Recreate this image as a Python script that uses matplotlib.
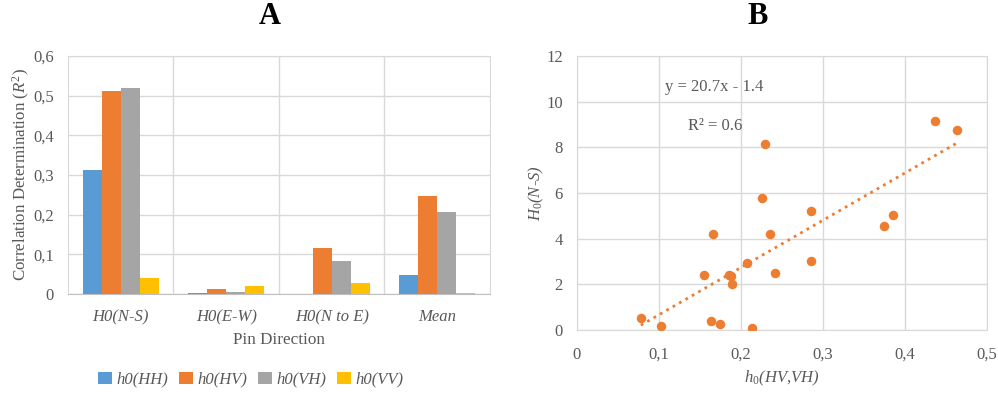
import numpy as np
import matplotlib
matplotlib.use('Agg')
from matplotlib import pyplot as plt
from matplotlib.ticker import FuncFormatter

plt.rcParams['font.family'] = ['Liberation Serif', 'DejaVu Serif']
plt.rcParams['mathtext.fontset'] = 'custom'
plt.rcParams['mathtext.rm'] = 'Liberation Serif'
plt.rcParams['mathtext.it'] = 'Liberation Serif:italic'

# chart A data
categories = ['H0(N-S)', 'H0(E-W)', 'H0(N to E)', 'Mean']
series_names = ['h0(HH)', 'h0(HV)', 'h0(VH)', 'h0(VV)']
hh = [0.312, 0.002, 0.001, 0.049]
hv = [0.512, 0.013, 0.116, 0.246]
vh = [0.519, 0.004, 0.083, 0.206]
vv = [0.041, 0.021, 0.028, 0.002]
colors = ['#5B9BD5', '#ED7D31', '#A5A5A5', '#FFC000']

# chart B data
h0_hvvh = [0.078, 0.102, 0.155, 0.164, 0.166, 0.174, 0.185, 0.188, 0.189, 0.208, 0.213,
           0.226, 0.229, 0.235, 0.241, 0.285, 0.286, 0.375, 0.385, 0.437, 0.464]
H0_ns = [0.52, 0.19, 2.43, 0.38, 4.19, 0.26, 2.43, 2.37, 2.01, 2.96, 0.09,
         5.78, 8.16, 4.19, 2.52, 5.21, 3.01, 4.54, 5.05, 9.17, 8.75]
slope, intercept = 20.7, -1.4

grid_c = '#d9d9d9'
txt_c = '#595959'
comma = FuncFormatter(lambda v, p: ('%g' % round(v, 2)).replace('.', ','))

fig = plt.figure(figsize=(9.98, 3.93), dpi=100)

# ---- A ----
ax = fig.add_axes([0.0681, 0.2519, 0.4228, 0.6056])
x = np.arange(len(categories))
w = 0.18
for i, (vals, name) in enumerate(zip([hh, hv, vh, vv], series_names)):
    ax.bar(x + (i - 1.5) * w, vals, w, color=colors[i], label=name, zorder=3)
ax.set_xlim(-0.5, 3.5)
ax.set_ylim(0, 0.6)
ax.set_yticks(np.arange(0, 0.61, 0.1))
ax.yaxis.set_major_formatter(comma)
ax.set_xticks(x)
ax.set_xticklabels(categories, fontstyle='italic')
ax.set_xticks([0.5, 1.5, 2.5], minor=True)
ax.grid(axis='y', color=grid_c, lw=1, zorder=0)
ax.grid(axis='x', which='minor', color=grid_c, lw=1, zorder=0)
ax.tick_params(which='both', length=0, labelsize=12, colors=txt_c)
ax.tick_params(axis='x', pad=11)
ax.tick_params(axis='y', pad=10)
for s in ax.spines.values():
    s.set_color(grid_c)
ax.spines['bottom'].set_color('#bfbfbf')
ax.set_xlabel('Pin Direction', fontsize=12.3, color=txt_c, labelpad=5)
ax.set_ylabel('Correlation Determination ($\\mathit{R}^2$)', fontsize=12.2, color=txt_c, labelpad=1)
leg = ax.legend(loc='center', bbox_to_anchor=(0.434, -0.36), ncol=4, frameon=False,
                handlelength=0.8, handleheight=0.8, handletextpad=0.3, columnspacing=0.65,
                prop={'style': 'italic', 'size': 12})
for t in leg.get_texts():
    t.set_color(txt_c)

# ---- B ----
bx = fig.add_axes([0.578, 0.160, 0.411, 0.6975])
bx.scatter(h0_hvvh, H0_ns, s=34, color='#ED7D31', zorder=3)
xs = np.array([min(h0_hvvh), max(h0_hvvh)])
bx.plot(xs, slope * xs + intercept, ls=':', color='#ED7D31', lw=2, zorder=2)
bx.set_xlim(0, 0.5)
bx.set_ylim(0, 12)
bx.set_xticks(np.arange(0, 0.51, 0.1))
bx.set_yticks(np.arange(0, 13, 2))
bx.xaxis.set_major_formatter(comma)
bx.grid(color=grid_c, lw=1, zorder=0)
bx.tick_params(length=0, labelsize=12, colors=txt_c)
bx.tick_params(axis='x', pad=12)
bx.tick_params(axis='y', pad=10)
for s in bx.spines.values():
    s.set_color(grid_c)
bx.set_xlabel('$h_0$(HV,VH)', fontsize=12, fontstyle='italic', color=txt_c, labelpad=4)
bx.set_ylabel('$H_0$(N-S)', fontsize=12, fontstyle='italic', color=txt_c, labelpad=0)
bx.text(0.108, 10.66, 'y = 20.7x - 1.4', fontsize=12, color=txt_c, va='center')
bx.text(0.135, 8.94, 'R² = 0.6', fontsize=12, color=txt_c, va='center')

fig.text(270 / 998, 1 - 16 / 393, 'A', fontsize=22, fontweight='bold', ha='center', va='center')
fig.text(758 / 998, 1 - 16 / 393, 'B', fontsize=22, fontweight='bold', ha='center', va='center')

fig.savefig('out.png', dpi=100)
